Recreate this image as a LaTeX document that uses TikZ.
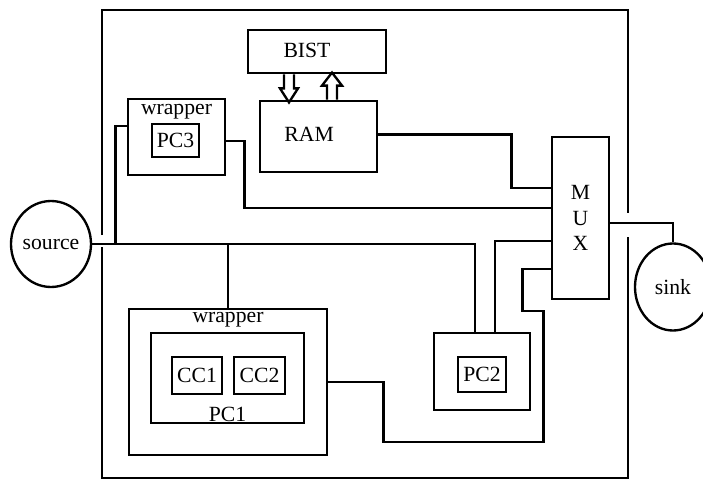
\documentclass[tikz,border=0pt]{standalone}
\usepackage{fontspec}
\setmainfont{Liberation Serif}
\usetikzlibrary{calc,shapes.geometric}

\begin{document}
\begin{tikzpicture}[
    x=0.03cm, y=-0.03cm,
    font=\fontsize{18.5}{22}\selectfont,
    line width=2.4pt,
    box/.style={draw, line width=2.4pt, inner sep=0pt},
    circ/.style={draw, ellipse, line width=2pt, inner sep=0pt},
    wire/.style={line width=2.4pt},
    hollow/.style={line width=2pt, fill=white}
  ]
    \useasboundingbox (0,0) rectangle (703,481);
    % outer frame, open where the wires pass
    \draw (102,235) -- (102,10) -- (628,10) -- (628,213);
    \draw (628,237) -- (628,478) -- (102,478) -- (102,247);

    \node[box, minimum width=4.14cm, minimum height=1.29cm,
      label={[xshift=-0.3cm, yshift=0.03cm]center:BIST}] (bist) at (317,51.5) {};
    \node[box, minimum width=3.51cm, minimum height=2.13cm,
      label={[xshift=-0.28cm, yshift=0.05cm]center:RAM}] (ram) at (318.5,136.5) {};
    \node[box, minimum width=2.91cm, minimum height=2.28cm,
      label={[anchor=north, inner sep=0pt, yshift=-4.5pt]north:wrapper}] (w3) at (176.5,137) {};
    \node[box, minimum width=1.41cm, minimum height=0.99cm] (pc3) at (175.5,140.5) {PC3};
    \node[box, minimum width=1.71cm, minimum height=4.86cm, align=center] (mux) at (580.5,218) {M\\U\\X};
    \node[circ, minimum width=2.34cm, minimum height=2.58cm] (source) at (51,244) {source};
    \node[circ, minimum width=2.28cm, minimum height=2.61cm] (sink) at (673,287) {sink};
    \node[box, minimum width=2.88cm, minimum height=2.31cm] (w2) at (482,371.5) {};
    \node[box, minimum width=1.44cm, minimum height=1.05cm] (pc2) at (482,374.5) {PC2};
    \node[box, minimum width=5.94cm, minimum height=4.38cm,
      label={[anchor=north, inner sep=0pt, yshift=-3pt]north:wrapper}] (w1) at (228,382) {};
    \node[box, minimum width=4.59cm, minimum height=2.70cm,
      label={[anchor=south, inner sep=1pt]south:PC1}] (pc1) at (227.5,378) {};
    \node[box, minimum width=1.50cm, minimum height=1.11cm] (cc1) at (197,375.5) {CC1};
    \node[box, minimum width=1.53cm, minimum height=1.11cm] (cc2) at (259.5,375.5) {CC2};

    % BIST <-> RAM
    \draw[hollow] ($(bist.south)+(-33,0)$) -- ++(0,14) -- ++(-4,0) -- ++(9,14)
      -- ++(9,-14) -- ++(-4,0) -- ++(0,-14);
    \draw[hollow] ($(ram.north)+(8.5,0)$) -- ++(0,-14) -- ++(-5,0) -- ++(10,-13)
      -- ++(10,13) -- ++(-5,0) -- ++(0,14);

    % wires
    \draw[wire] (source.east) -| ($(w2.north)+(-7,0)$);
    \draw[wire] (w1.north) -- (w1.north |- source.east);
    \draw[wire] ($(w3.west)+(0,-11)$) -| ($(source.east)+(23,0)$);
    \draw[wire] ($(w3.east)+(0,4)$) -- ++(18,0) |- ($(mux.west)+(0,-10)$);
    \draw[wire] ($(ram.east)+(0,-2)$) -- ++(133,0) |- ($(mux.west)+(0,-30)$);
    \draw[wire] ($(mux.west)+(0,23)$) -| ($(w2.north)+(13,0)$);
    \draw[wire] ($(mux.west)+(0,51)$) -- ++(-28,0) -- ++(0,42) -- ++(21,0)
      -- ++(0,131) -| ($(w1.east)+(55,0)$) -- (w1.east);
    \draw[wire] ($(mux.east)+(0,5)$) -| (sink.north);
\end{tikzpicture}
\end{document}
